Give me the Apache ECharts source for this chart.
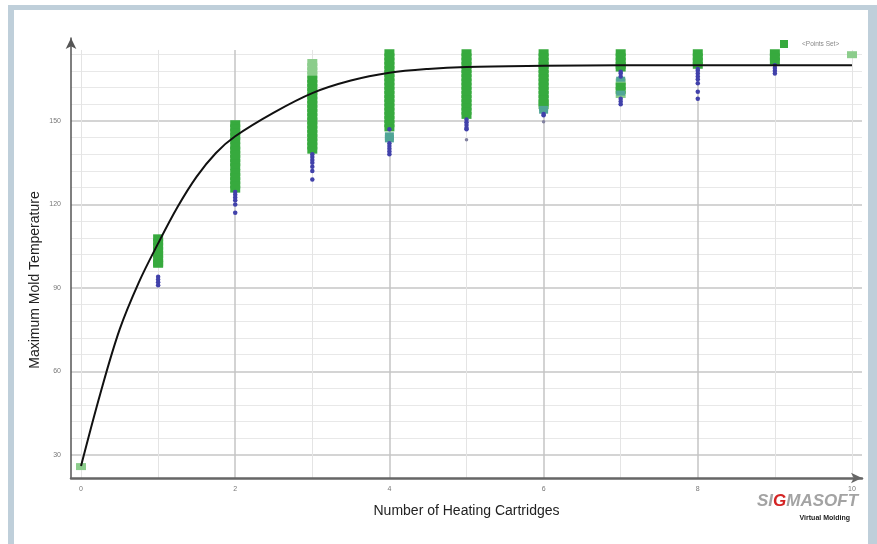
<!DOCTYPE html>
<html><head><meta charset="utf-8">
<script src="https://cdn.jsdelivr.net/npm/echarts@6/dist/echarts.min.js"></script>
<style>html,body{margin:0;padding:0;background:#fff}#c{width:877px;height:544px}</style>
</head><body><div id="c"></div>
<script>
// ---- axis ticks / grid ----
const xTicks = [0, 2, 4, 6, 8, 10];
const xMajorLines = [2, 4, 6, 8];
const xMinorLines = [0, 1, 3, 5, 7, 9, 10];
const yTicks = [30, 60, 90, 120, 150];
const yMinorLines = [36, 42, 48, 54, 66, 72, 78, 84, 96, 102, 108, 114, 126, 132, 138, 144, 156, 162, 168, 174];

// ---- data: number of heating cartridges ----
const cartridges = [0, 1, 2, 3, 4, 5, 6, 7, 8, 9, 10];
// green squares (main) per cartridge count
const greenMain = [
  [],
  [108, 106.5, 105, 103.5, 102, 100.5, 99, 98.5],
  [149, 147.5, 146, 144.5, 143, 141, 139.5, 138, 136.5, 135, 133.5, 131.5, 130, 128.5, 127, 125.5],
  [165, 163.5, 162, 160.5, 159, 157.5, 156, 154.5, 153, 151.5, 150, 148.5, 147, 145.5, 144, 142.5, 141, 139.5],
  [174.5, 173, 171.5, 170, 168.5, 167, 165.5, 164, 162.5, 161, 159.5, 158, 156.5, 155, 153.5, 152, 150.5, 149, 147.5],
  [174.5, 173, 171.5, 170, 168.5, 167, 165.5, 164, 162.5, 161, 159.5, 158, 156.5, 155, 153.5, 152],
  [174.5, 173, 171.5, 170, 168.5, 167, 165.5, 164, 162.5, 161, 159.5, 158, 156.5, 155.5],
  [174.5, 173, 171.5, 170, 169, 162.5, 161],
  [174.5, 173, 171.5, 170],
  [174.5, 173, 171.5],
  []
];
// lighter green squares
const greenLight = [
  [25.8], [], [], [171, 169.5, 168, 166.5], [], [], [], [164, 159.5], [], [], [173.8]
];
// teal mixed points
const tealPts = [
  [], [], [], [], [145, 144, 143.2], [], [154.5, 153.5], [165, 160], [], [], []
];
// blue / purple dots
const bluePts = [
  [], [94, 93, 92, 91], [124.5, 123.5, 122.5, 121.5, 120, 117],
  [138, 137, 136, 135, 133.5, 132, 129],
  [147, 142, 141, 140, 139, 138],
  [150.5, 149.5, 148.5, 147.5, 147],
  [152.5, 152],
  [167.7, 167, 166, 158, 157, 156],
  [168.7, 168, 167, 166, 165, 163.5, 160.5, 158],
  [170, 169, 168, 167],
  []
];
// isolated grey dots
const greyPts = [[], [], [], [], [], [143.2], [149.7], [], [], [], []];

// fitted curve
const curveX = [0, 0.25, 0.5, 0.75, 1, 1.25, 1.5, 1.75, 2, 2.5, 3, 3.5, 4, 4.5, 5, 6, 7, 8, 9, 10];
const curveY = [26, 52, 75, 92, 106, 119, 130, 138.5, 144.5, 153, 160, 164.5, 167.3, 168.7, 169.4, 169.8, 170, 170, 170, 170];

const X_MIN = -0.13, X_MAX = 10.13, Y_MIN = 21.7, Y_MAX = 179.8, GRID_TOP_VAL = 175.5;

function pts(groups) {
  const out = [];
  groups.forEach((g, i) => g.forEach(v => out.push([cartridges[i], v])));
  return out;
}

const gridLines = [];
yMinorLines.forEach(v => gridLines.push({ yAxis: v, lineStyle: { color: '#e8e8e8', width: 1, type: 'solid' } }));
yTicks.forEach(v => gridLines.push({ yAxis: v, lineStyle: { color: '#c6c6c6', width: 1.5, type: 'solid' } }));
xMinorLines.forEach(v => gridLines.push([{ coord: [v, Y_MIN], lineStyle: { color: '#e4e4e4', width: 1, type: 'solid' } }, { coord: [v, GRID_TOP_VAL] }]));
xMajorLines.forEach(v => gridLines.push([{ coord: [v, Y_MIN], lineStyle: { color: '#c4c4c4', width: 1.5, type: 'solid' } }, { coord: [v, GRID_TOP_VAL] }]));

const noBorder = { borderWidth: 0, borderColor: 'transparent' };

const chart = echarts.init(document.getElementById('c'));
chart.setOption({
  animation: false,
  backgroundColor: '#fff',
  grid: { left: 71, right: 15, top: 38, bottom: 66 },
  legend: {
    data: ['<Points Set>'], left: 775, top: 35, itemWidth: 8, itemHeight: 8, itemGap: 6,
    icon: 'rect', textStyle: { fontSize: 6.5, color: '#888', fontFamily: 'Liberation Sans', padding: [0, 0, 0, 9] }
  },
  xAxis: {
    type: 'value', min: X_MIN, max: X_MAX,
    name: 'Number of Heating Cartridges', nameLocation: 'middle', nameGap: 26,
    nameTextStyle: { fontSize: 14, color: '#222', fontFamily: 'Liberation Sans' },
    axisLine: { onZero: false, symbol: ['none', 'arrow'], symbolSize: [8, 11], lineStyle: { color: '#666', width: 2.5 } },
    axisTick: { show: false },
    axisLabel: { customValues: xTicks, fontSize: 7, color: '#777', margin: 8, fontFamily: 'Liberation Sans' },
    splitLine: { show: false }
  },
  yAxis: {
    type: 'value', min: Y_MIN, max: Y_MAX,
    axisLine: { onZero: false, symbol: ['none', 'arrow'], symbolSize: [8, 11], lineStyle: { color: '#555', width: 1.5 } },
    axisTick: { show: false },
    axisLabel: { customValues: yTicks, fontSize: 7, color: '#777', margin: 10, fontFamily: 'Liberation Sans' },
    splitLine: { show: false }
  },
  series: [
    { type: 'line', name: 'grid', data: [], silent: true, z: 0,
      markLine: { z: 0, silent: true, symbol: ['none', 'none'], label: { show: false }, animation: false, data: gridLines } },
    { type: 'scatter', name: 'light', data: pts(greenLight), symbol: 'rect', symbolSize: [10, 7],
      itemStyle: Object.assign({ color: 'rgb(140,205,140)', opacity: 1 }, noBorder), z: 2 },
    { type: 'scatter', name: '<Points Set>', data: pts(greenMain), symbol: 'rect', symbolSize: [10, 7],
      itemStyle: Object.assign({ color: 'rgb(55,170,62)', opacity: 1 }, noBorder), z: 3 },
    { type: 'scatter', name: 'teal', data: pts(tealPts), symbol: 'rect', symbolSize: [9, 5],
      itemStyle: Object.assign({ color: 'rgb(80,165,150)', opacity: 1 }, noBorder), z: 3 },
    { type: 'scatter', name: 'blue', data: pts(bluePts), symbol: 'circle', symbolSize: 4.5,
      itemStyle: Object.assign({ color: 'rgb(65,65,170)', opacity: 1 }, noBorder), z: 4 },
    { type: 'scatter', name: 'grey', data: pts(greyPts), symbol: 'circle', symbolSize: 3.5,
      itemStyle: Object.assign({ color: 'rgb(130,130,160)', opacity: 1 }, noBorder), z: 4 },
    { type: 'line', name: 'fit', data: curveX.map((x, i) => [x, curveY[i]]), smooth: 0.35, showSymbol: false,
      lineStyle: { color: '#111', width: 2 }, z: 6 }
  ],
  graphic: [
    { type: 'rect', shape: { x: 8, y: 5, width: 6, height: 539 }, style: { fill: '#bfcfda' }, silent: true },
    { type: 'rect', shape: { x: 8, y: 5, width: 869, height: 5 }, style: { fill: '#bfcfda' }, silent: true },
    { type: 'rect', shape: { x: 868, y: 5, width: 9, height: 539 }, style: { fill: '#bfcfda' }, silent: true },
    { type: 'text', x: 35, y: 280, rotation: Math.PI / 2, silent: true,
      style: { text: 'Maximum Mold Temperature', fontSize: 14, fill: '#222', fontFamily: 'Liberation Sans', align: 'center', verticalAlign: 'middle' } },
    { type: 'text', left: 757, top: 493, silent: true,
      style: { text: '{a|SI}{b|G}{a|MASOFT}',
        rich: { a: { fontSize: 17, fontWeight: 'bold', fontStyle: 'italic', fill: '#a3a3a3', fontFamily: 'Liberation Sans' },
                b: { fontSize: 17, fontWeight: 'bold', fontStyle: 'italic', fill: '#d42424', fontFamily: 'Liberation Sans' } } } },
    { type: 'text', right: 27, top: 515, silent: true,
      style: { text: 'Virtual Molding', fontSize: 7, fontWeight: 'bold', fill: '#222', fontFamily: 'Liberation Sans' } }
  ]
});
</script></body></html>
